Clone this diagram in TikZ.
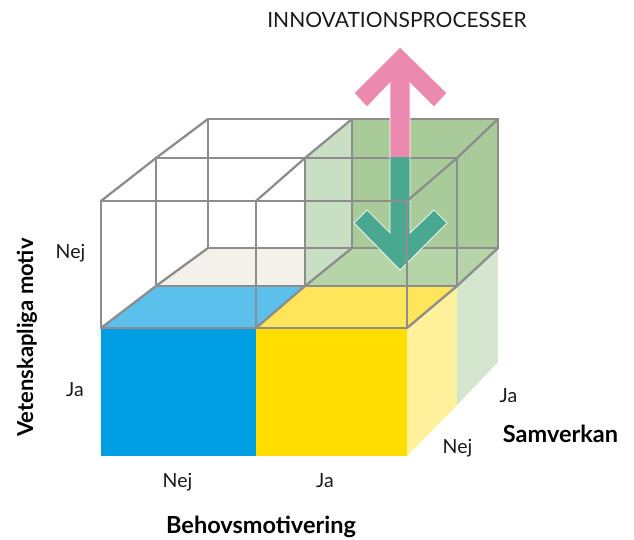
\documentclass[tikz,border=0pt]{standalone}
\usepackage{fontspec}
\setmainfont{Lato}
\begin{document}
\begin{tikzpicture}[x=1pt,y=-1pt,
  grid/.style={draw=gridgray,line width=2.3pt,line cap=round,line join=round},
  lab/.style={font=\fontsize{19.5}{19.5}\selectfont,text=black!90,inner sep=0pt,anchor=base},
  axis/.style={font=\bfseries\fontsize{23.5}{23.5}\selectfont,text=black,inner sep=0pt,anchor=base}]
\definecolor{gridgray}{HTML}{8D8D8D}
\definecolor{bluefront}{HTML}{009FE3}
\definecolor{bluetop}{HTML}{5BC0EB}
\definecolor{yelfront}{HTML}{FFDD00}
\definecolor{yeltop}{HTML}{FFE55A}
\definecolor{yelside}{HTML}{FFF09C}
\definecolor{greenside}{HTML}{D5E6CE}
\definecolor{beige}{HTML}{F4F1EA}
\definecolor{greendark}{HTML}{A9CB9A}
\definecolor{greenleft}{HTML}{C9DFC3}
\definecolor{greenfloor}{HTML}{B5D4A8}
\definecolor{pinkarrow}{HTML}{EB89AE}
\definecolor{tealarrow}{HTML}{4AA891}
\path[use as bounding box] (0,0) rectangle (634,539);
% vertices
\coordinate (F0t) at (101,201); \coordinate (F1t) at (256,201); \coordinate (F2t) at (407,201);
\coordinate (F0b) at (101,328); \coordinate (F1b) at (256,328); \coordinate (F2b) at (407,328);
\coordinate (M0t) at (156,158); \coordinate (M1t) at (305,158); \coordinate (M2t) at (457,158);
\coordinate (M0b) at (156,286); \coordinate (M1b) at (305,286); \coordinate (M2b) at (457,286);
\coordinate (B0t) at (208,119); \coordinate (B1t) at (352,119); \coordinate (B2t) at (498,119);
\coordinate (B0b) at (208,248); \coordinate (B1b) at (352,248); \coordinate (B2b) at (498,248);
\coordinate (F0g) at (101,456); \coordinate (F1g) at (256,456); \coordinate (F2g) at (407,456);
\coordinate (M2g) at (457,405); \coordinate (B2g) at (498,362);
% lower solid layer
\fill[bluefront] (F0b) -- (F1b) -- (F1g) -- (F0g) -- cycle;
\fill[yelfront] (F1b) -- (F2b) -- (F2g) -- (F1g) -- cycle;
\fill[yelside] (F2b) -- (M2b) -- (M2g) -- (F2g) -- cycle;
\fill[greenside] (M2b) -- (B2b) -- (B2g) -- (M2g) -- cycle;
\fill[bluetop] (F0b) -- (F1b) -- (M1b) -- (M0b) -- cycle;
\fill[yeltop] (F1b) -- (F2b) -- (M2b) -- (M1b) -- cycle;
\fill[beige] (M0b) -- (M1b) -- (B1b) -- (B0b) -- cycle;
% green box
\fill[greendark] (M1t) -- (B1t) -- (B2t) -- (B2b) -- (M2b) -- (M1b) -- cycle;
\fill[greenleft] (M1t) -- (B1t) -- (B1b) -- (M1b) -- cycle;
\fill[greenfloor] (M1b) -- (B1b) -- (B2b) -- (M2b) -- cycle;
% back and middle grid lines
\draw[grid] (B0t) -- (B2t) (B0b) -- (B2b) (B0t) -- (B0b) (B1t) -- (B1b) (B2t) -- (B2b);
\draw[grid] (M0t) -- (M2t) (M0b) -- (M2b) (M0t) -- (M0b) (M1t) -- (M1b) (M2t) -- (M2b);
\draw[grid] (M0t) -- (B0t) (M1t) -- (B1t) (M2t) -- (B2t) (M0b) -- (B0b) (M1b) -- (B1b) (M2b) -- (B2b);
% arrows
\coordinate (P1) at (400,47); \coordinate (P2) at (447,93); \coordinate (P3) at (434,107);
\coordinate (P4) at (410,83); \coordinate (P5) at (410,157); \coordinate (P6) at (390,157);
\coordinate (P7) at (390,83); \coordinate (P8) at (367,107); \coordinate (P9) at (354,93);
\coordinate (G1) at (410,233); \coordinate (G2) at (434,210); \coordinate (G3) at (447,223);
\coordinate (G4) at (400,270); \coordinate (G5) at (354,223); \coordinate (G6) at (367,210);
\coordinate (G7) at (390,233);
\fill[pinkarrow] (P1) -- (P2) -- (P3) -- (P4) -- (P5) -- (P6) -- (P7) -- (P8) -- (P9) -- cycle;
\fill[tealarrow] (P6) -- (P5) -- (G1) -- (G2) -- (G3) -- (G4) -- (G5) -- (G6) -- (G7) -- cycle;
\draw[white,line width=0.7pt,line join=miter] (P1) -- (P2) -- (P3) -- (P4) -- (G1) -- (G2) -- (G3) -- (G4) -- (G5) -- (G6) -- (G7) -- (P7) -- (P8) -- (P9) -- cycle;
% front grid lines
\draw[grid] (F0t) -- (F2t) (F0b) -- (F2b) (F0t) -- (F0b) (F1t) -- (F1b) (F2t) -- (F2b);
\draw[grid] (F0t) -- (M0t) (F1t) -- (M1t) (F2t) -- (M2t) (F0b) -- (M0b) (F1b) -- (M1b) (F2b) -- (M2b);
% labels
\node[lab,font=\fontsize{21}{21}\selectfont] (title) at (397,27) {INNOVATIONSPROCESSER};
\node[lab] (nejL) at (70.5,258) {Nej};
\node[lab] (jaL) at (75,396) {Ja};
\node[axis,rotate=90,font=\bfseries\fontsize{22}{22}\selectfont] (vet) at (33,337.5) {Vetenskapliga motiv};
\node[lab] (nejB) at (177.5,487) {Nej};
\node[lab] (jaB) at (325,487) {Ja};
\node[axis] (beh) at (261,533) {Behovsmotivering};
\node[lab] (jaR) at (508.5,402) {Ja};
\node[lab] (nejR) at (457.5,453) {Nej};
\node[axis] (sam) at (560.5,442) {Samverkan};
\end{tikzpicture}
\end{document}
